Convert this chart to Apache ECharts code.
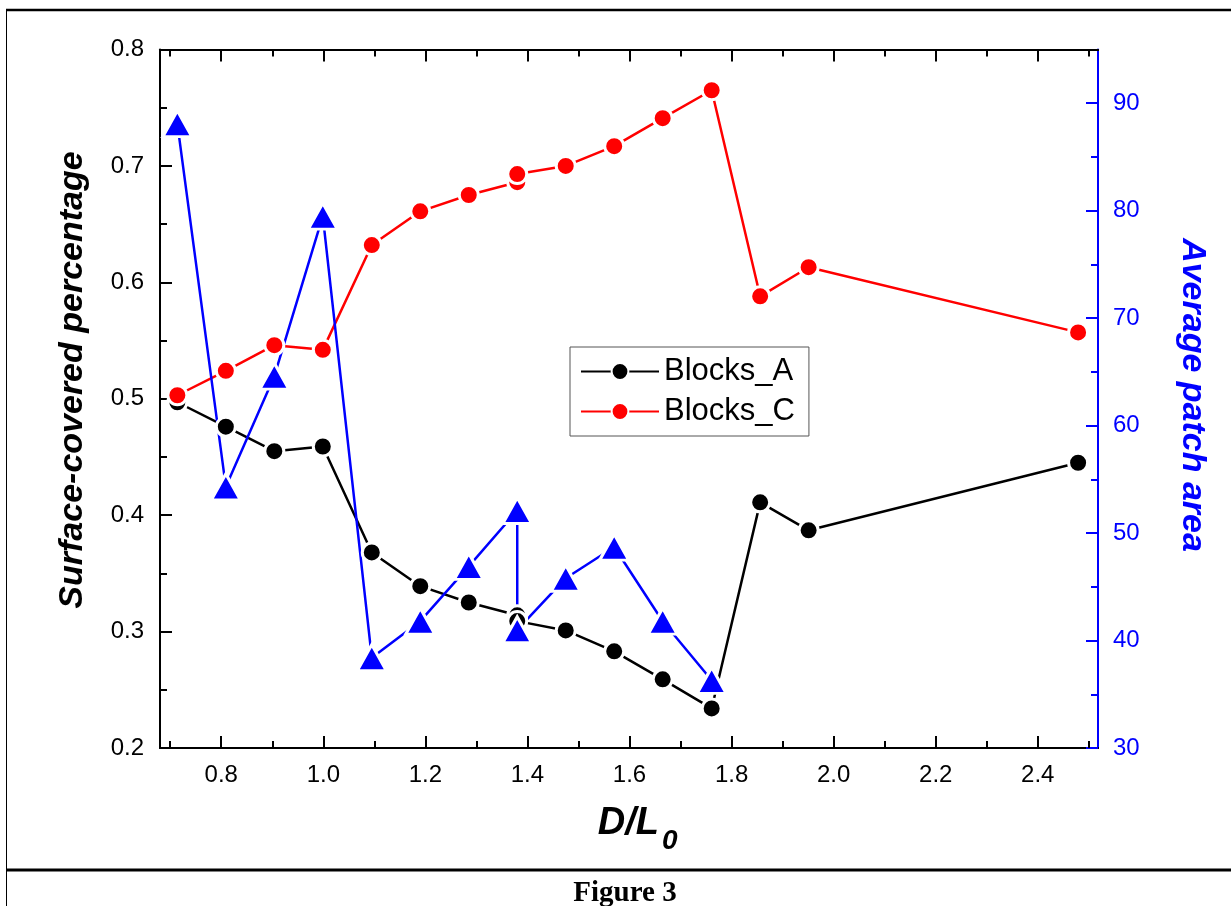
<!DOCTYPE html>
<html>
<head>
<meta charset="utf-8">
<script src="https://cdn.jsdelivr.net/npm/echarts@6/dist/echarts.min.js"></script>
<style>
  html, body { margin: 0; padding: 0; background: #fff; }
  #chart { width: 1231px; height: 906px; }
</style>
</head>
<body>
<div id="chart"></div>
<script>
// D/L0 values of the measured configurations (1.38 was measured twice)
const ratioBlocks = [0.714, 0.809, 0.904, 0.999, 1.095, 1.190, 1.285, 1.380, 1.380,
                     1.475, 1.570, 1.665, 1.761, 1.856, 1.951, 2.479];
// Surface-covered percentage, Blocks_A
const coverA = [0.497, 0.476, 0.455, 0.459, 0.368, 0.339, 0.325, 0.314, 0.309,
                0.301, 0.283, 0.259, 0.234, 0.411, 0.387, 0.445];
// Surface-covered percentage, Blocks_C
const coverC = [0.503, 0.524, 0.546, 0.542, 0.632, 0.661, 0.675, 0.686, 0.693,
                0.700, 0.717, 0.741, 0.765, 0.588, 0.613, 0.557];
// Average patch area (right axis)
const ratioPatch = [0.714, 0.809, 0.904, 0.999, 1.095, 1.190, 1.285, 1.380, 1.380,
                    1.475, 1.570, 1.665, 1.761];
const patchArea = [88.1, 54.3, 64.6, 79.5, 38.4, 41.8, 46.9, 52.1, 41.0,
                   45.8, 48.7, 41.8, 36.3];

// Axis tick positions
const xMajorTicks = [0.8, 1.0, 1.2, 1.4, 1.6, 1.8, 2.0, 2.2, 2.4];
const xMinorTicks = [0.7, 0.9, 1.1, 1.3, 1.5, 1.7, 1.9, 2.1, 2.3, 2.5];
const rightTicks = [30, 40, 50, 60, 70, 80, 90];

const X_MIN = 0.68, X_MAX = 2.518;
const SANS = '"Liberation Sans", Arial, sans-serif';
const SERIF = '"Liberation Serif", "Times New Roman", serif';

const pairs = (xs, ys) => xs.map((x, i) => [x, ys[i]]);

function xAxisDef(position, ticks, len, withLabels) {
  return {
    type: 'value',
    position: position,
    min: X_MIN,
    max: X_MAX,
    axisLine: { show: true, lineStyle: { color: '#000', width: 2 } },
    axisTick: {
      show: true, inside: true, length: len, customValues: ticks,
      lineStyle: { color: '#000', width: 2 }
    },
    axisLabel: withLabels ? {
      show: true, customValues: ticks, margin: 15,
      formatter: v => v.toFixed(1),
      fontSize: 24, fontFamily: SANS, color: '#000'
    } : { show: false },
    splitLine: { show: false }
  };
}

function lineSeries(name, data, color, symbol, size, yIndex) {
  return {
    name: name,
    type: 'line',
    xAxisIndex: 0,
    yAxisIndex: yIndex,
    data: data,
    symbol: symbol,
    symbolSize: size,
    showSymbol: true,
    lineStyle: { color: color, width: 2.5 },
    itemStyle: { color: color, borderColor: '#fff', borderWidth: 3 },
    emphasis: { disabled: true },
    z: 3
  };
}

const chart = echarts.init(document.getElementById('chart'), null, { renderer: 'canvas' });

chart.setOption({
  animation: false,
  backgroundColor: '#fff',
  grid: { left: 160, top: 49.5, width: 938, height: 698.5, containLabel: false },
  xAxis: [
    xAxisDef('bottom', xMajorTicks, 12, true),
    xAxisDef('bottom', xMinorTicks, 7, false),
    xAxisDef('top', xMajorTicks, 12, false),
    xAxisDef('top', xMinorTicks, 7, false)
  ],
  yAxis: [
    {
      type: 'value', position: 'left', min: 0.2, max: 0.8, interval: 0.1,
      axisLine: { show: true, lineStyle: { color: '#000', width: 2 } },
      axisTick: { show: true, inside: true, length: 12, lineStyle: { color: '#000', width: 2 } },
      minorTick: { show: true, splitNumber: 2, length: 7, lineStyle: { color: '#000', width: 2 } },
      axisLabel: { margin: 16, formatter: v => v.toFixed(1), fontSize: 24, fontFamily: SANS, color: '#000' },
      splitLine: { show: false }
    },
    {
      type: 'value', position: 'right', min: 30, max: 95, interval: 10,
      axisLine: { show: true, lineStyle: { color: '#0000ff', width: 2 } },
      axisTick: { show: true, inside: true, length: 12, customValues: rightTicks,
                  lineStyle: { color: '#0000ff', width: 2 } },
      minorTick: { show: true, splitNumber: 2, length: 7, lineStyle: { color: '#0000ff', width: 2 } },
      axisLabel: { margin: 15, customValues: rightTicks, fontSize: 24, fontFamily: SANS, color: '#0000ff' },
      splitLine: { show: false }
    }
  ],
  legend: {
    data: ['Blocks_A', 'Blocks_C'],
    orient: 'vertical',
    left: 570, top: 347,
    padding: [9, 14, 9, 10],
    itemGap: 9,
    itemWidth: 78,
    itemHeight: 21,
    borderColor: '#555', borderWidth: 1, borderRadius: 0,
    textStyle: { fontSize: 31, fontFamily: SANS, color: '#000' },
    selectedMode: false
  },
  series: [
    lineSeries('Blocks_A', pairs(ratioBlocks, coverA), '#000000', 'circle', 19, 0),
    lineSeries('Blocks_C', pairs(ratioBlocks, coverC), '#ff0000', 'circle', 19, 0),
    lineSeries('Average patch area', pairs(ratioPatch, patchArea), '#0000ff', 'triangle', [29, 26], 1)
  ],
  graphic: [
    // page frame of the figure
    { type: 'line', shape: { x1: 6, y1: 10, x2: 1231, y2: 10 }, style: { stroke: '#000', lineWidth: 2.5 }, silent: true },
    { type: 'line', shape: { x1: 6.5, y1: 10, x2: 6.5, y2: 906 }, style: { stroke: '#000', lineWidth: 1 }, silent: true },
    { type: 'line', shape: { x1: 6, y1: 870, x2: 1231, y2: 870 }, style: { stroke: '#000', lineWidth: 3 }, silent: true },
    // axis titles
    { type: 'text', x: 73, y: 380, rotation: Math.PI / 2, silent: true,
      style: { text: 'Surface-covered percentage', fontSize: 34, fontWeight: 'bold', fontStyle: 'italic',
               fontFamily: SANS, fill: '#000', align: 'center', verticalAlign: 'middle' } },
    { type: 'text', x: 1192, y: 395, rotation: -Math.PI / 2, silent: true,
      style: { text: 'Average patch area', fontSize: 34, fontWeight: 'bold', fontStyle: 'italic',
               fontFamily: SANS, fill: '#0000ff', align: 'center', verticalAlign: 'middle' } },
    { type: 'text', x: 659, y: 824, silent: true,
      style: { text: 'D/L', fontSize: 38, fontWeight: 'bold', fontStyle: 'italic',
               fontFamily: SANS, fill: '#000', align: 'right', verticalAlign: 'middle' } },
    { type: 'text', x: 662, y: 841, silent: true,
      style: { text: '0', fontSize: 28, fontWeight: 'bold', fontStyle: 'italic',
               fontFamily: SANS, fill: '#000', align: 'left', verticalAlign: 'middle' } },
    // caption
    { type: 'text', x: 625, y: 894, silent: true,
      style: { text: 'Figure 3', fontSize: 29, fontWeight: 'bold',
               fontFamily: SERIF, fill: '#000', align: 'center', verticalAlign: 'middle' } }
  ]
});
</script>
</body>
</html>
